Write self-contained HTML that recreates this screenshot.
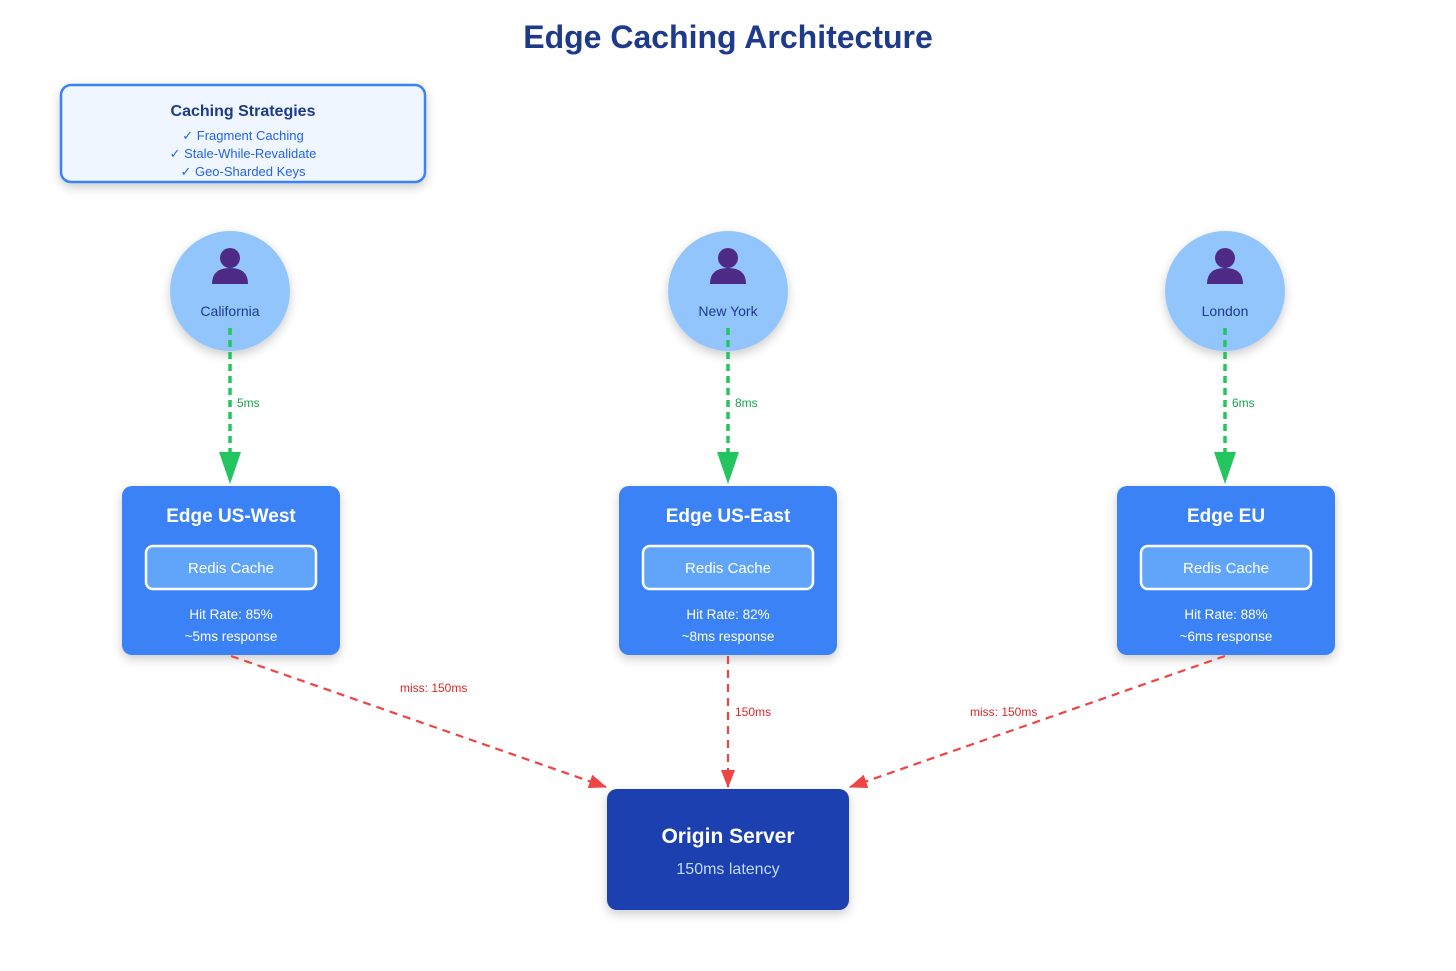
<!DOCTYPE html>
<html><head><meta charset="utf-8"><style>
html,body{margin:0;padding:0;background:#fff;}
svg{display:block;font-family:"Liberation Sans",sans-serif;}
</style></head><body>
<svg width="1456" height="971" viewBox="0 0 1456 971" xmlns="http://www.w3.org/2000/svg">
<defs>
<filter id="sh" x="-20%" y="-20%" width="140%" height="150%"><feDropShadow dx="0" dy="4" stdDeviation="5" flood-color="#000" flood-opacity="0.2"/></filter>
<marker id="ar" markerWidth="18" markerHeight="16" refX="17" refY="8" orient="auto" markerUnits="userSpaceOnUse" viewBox="0 0 18 16"><path d="M0,1 L18,8 L0,15 z" fill="#ef4444"/></marker>
<g id="person"><circle cx="0" cy="-14" r="10" fill="#4c2a85"/><path d="M-18,12 Q-18,-4 0,-4 Q18,-4 18,12 z" fill="#4c2a85"/></g>
</defs>
<text x="728" y="48" text-anchor="middle" font-size="32" font-weight="bold" fill="#1e3a8a">Edge Caching Architecture</text>

<rect x="61" y="85" width="364" height="97" rx="10" fill="#eff6ff" stroke="#3b82f6" stroke-width="2.5" filter="url(#sh)"/>
<text x="243" y="116" text-anchor="middle" font-size="16" font-weight="bold" fill="#1e3a8a">Caching Strategies</text>
<text x="243" y="140" text-anchor="middle" font-size="13" fill="#2563eb">✓ Fragment Caching</text>
<text x="243" y="158" text-anchor="middle" font-size="13" fill="#2563eb">✓ Stale-While-Revalidate</text>
<text x="243" y="176" text-anchor="middle" font-size="13" fill="#2563eb">✓ Geo-Sharded Keys</text>

<g filter="url(#sh)">
<circle cx="230" cy="291" r="60" fill="#93c5fd"/>
<circle cx="728" cy="291" r="60" fill="#93c5fd"/>
<circle cx="1225" cy="291" r="60" fill="#93c5fd"/>
</g>
<use href="#person" x="230" y="272"/>
<use href="#person" x="728" y="272"/>
<use href="#person" x="1225" y="272"/>
<text x="230" y="316" text-anchor="middle" font-size="14" fill="#1e3a8a">California</text>
<text x="728" y="316" text-anchor="middle" font-size="14" fill="#1e3a8a">New York</text>
<text x="1225" y="316" text-anchor="middle" font-size="14" fill="#1e3a8a">London</text>

<g stroke="#22c55e" stroke-width="3.5" stroke-dasharray="7,5" fill="none">
<line x1="230" y1="328" x2="230" y2="455"/>
<line x1="728" y1="328" x2="728" y2="455"/>
<line x1="1225" y1="328" x2="1225" y2="455"/>
</g>
<g fill="#22c55e">
<path d="M219,452 L241,452 L230,484 z"/>
<path d="M717,452 L739,452 L728,484 z"/>
<path d="M1214,452 L1236,452 L1225,484 z"/>
</g>
<text x="237" y="407" font-size="12" fill="#16a34a">5ms</text>
<text x="735" y="407" font-size="12" fill="#16a34a">8ms</text>
<text x="1232" y="407" font-size="12" fill="#16a34a">6ms</text>

<g filter="url(#sh)">
<rect x="122" y="486" width="218" height="169" rx="10" fill="#3b82f6"/>
<rect x="619" y="486" width="218" height="169" rx="10" fill="#3b82f6"/>
<rect x="1117" y="486" width="218" height="169" rx="10" fill="#3b82f6"/>
</g>
<g fill="#60a5fa" stroke="#fff" stroke-width="2.5">
<rect x="146" y="546" width="170" height="43" rx="7"/>
<rect x="643" y="546" width="170" height="43" rx="7"/>
<rect x="1141" y="546" width="170" height="43" rx="7"/>
</g>
<g fill="#fff" text-anchor="middle">
<text x="231" y="522" font-size="19" font-weight="bold">Edge US-West</text>
<text x="728" y="522" font-size="19" font-weight="bold">Edge US-East</text>
<text x="1226" y="522" font-size="19" font-weight="bold">Edge EU</text>
<text x="231" y="573" font-size="15">Redis Cache</text>
<text x="728" y="573" font-size="15">Redis Cache</text>
<text x="1226" y="573" font-size="15">Redis Cache</text>
<text x="231" y="619" font-size="13.5">Hit Rate: 85%</text>
<text x="728" y="619" font-size="13.5">Hit Rate: 82%</text>
<text x="1226" y="619" font-size="13.5">Hit Rate: 88%</text>
<text x="231" y="641" font-size="13.5">~5ms response</text>
<text x="728" y="641" font-size="13.5">~8ms response</text>
<text x="1226" y="641" font-size="13.5">~6ms response</text>
</g>

<g stroke="#ef4444" stroke-width="2.2" stroke-dasharray="8,6" fill="none">
<line x1="231" y1="656" x2="606" y2="787" marker-end="url(#ar)"/>
<line x1="728" y1="656" x2="728" y2="787" marker-end="url(#ar)"/>
<line x1="1225" y1="656" x2="850" y2="787" marker-end="url(#ar)"/>
</g>
<g font-size="12" fill="#dc2626">
<text x="400" y="692">miss: 150ms</text>
<text x="735" y="716">150ms</text>
<text x="970" y="716">miss: 150ms</text>
</g>

<rect x="607" y="789" width="242" height="121" rx="10" fill="#1e40af" filter="url(#sh)"/>
<text x="728" y="843" text-anchor="middle" font-size="21" font-weight="bold" fill="#fff">Origin Server</text>
<text x="728" y="874" text-anchor="middle" font-size="16" fill="#bfdbfe">150ms latency</text>
</svg>
</body></html>
